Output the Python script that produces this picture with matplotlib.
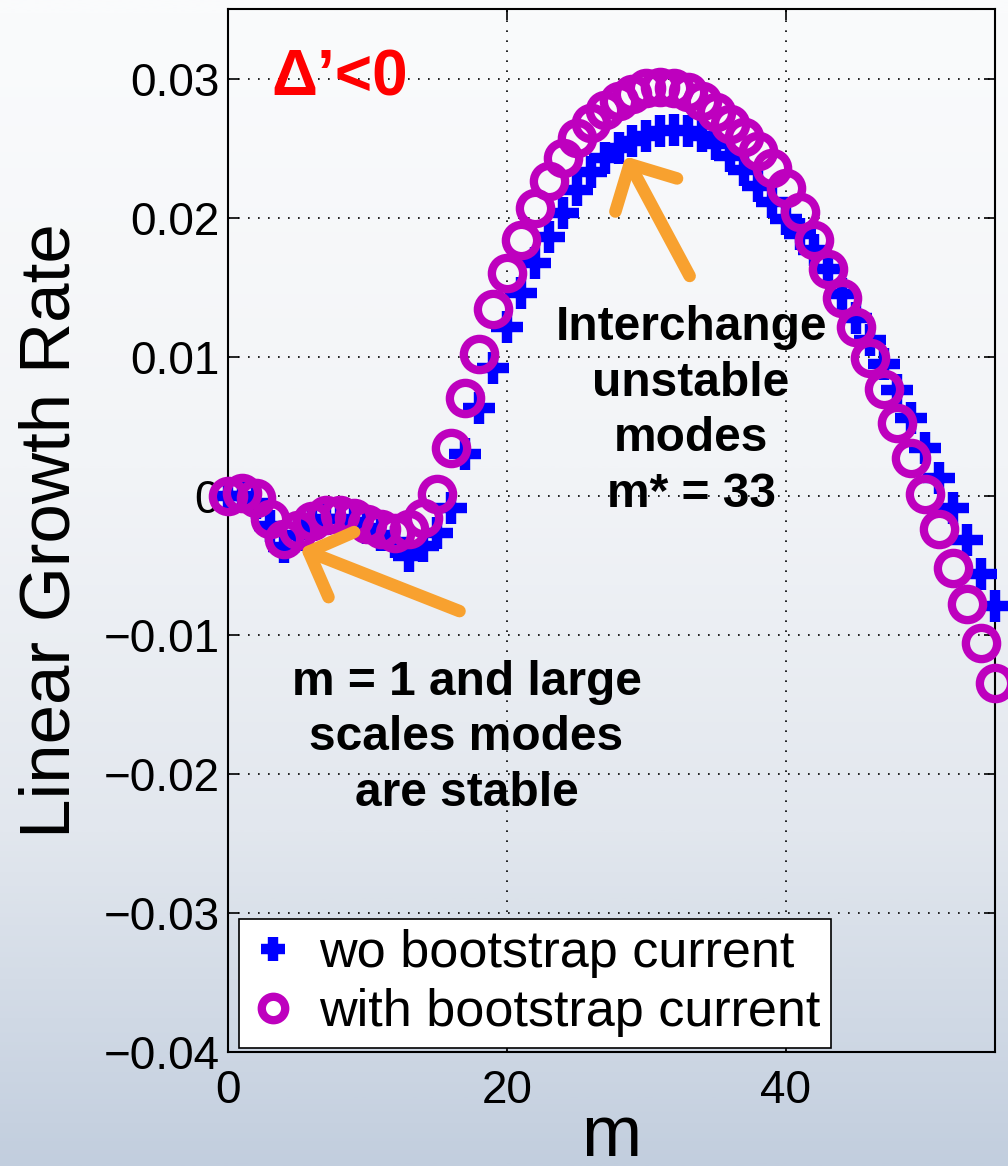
import numpy as np
import matplotlib
matplotlib.use('Agg')
import matplotlib.pyplot as plt
from matplotlib.colors import LinearSegmentedColormap

plt.rcParams['font.family'] = ['Liberation Sans', 'DejaVu Sans']

# poloidal mode number
m = np.arange(0, 56)

# growth rate without bootstrap current
gamma_wo = [
    0.0000, 0.0000, -0.0005, -0.0022, -0.0037, -0.0028, -0.0021, -0.0017,
    -0.0017, -0.0019, -0.0023, -0.0028, -0.0033, -0.0043, -0.0036, -0.0027,
    -0.0009, 0.0030, 0.0063, 0.0092, 0.0121, 0.0146, 0.0167, 0.0186,
    0.0203, 0.0220, 0.0233, 0.0243, 0.0250, 0.0255, 0.0259, 0.0262,
    0.0263, 0.0262, 0.0259, 0.0253, 0.0244, 0.0234, 0.0223, 0.0211,
    0.0199, 0.0188, 0.0177, 0.0163, 0.0145, 0.0128, 0.0112, 0.0095,
    0.0076, 0.0056, 0.0034, 0.0013, -0.0009, -0.0032, -0.0056, -0.0079,
]

# growth rate with bootstrap current
gamma_bs = [
    0.0000, 0.0002, -0.0002, -0.0017, -0.0031, -0.0025, -0.0018, -0.0014,
    -0.0014, -0.0016, -0.0020, -0.0024, -0.0027, -0.0024, -0.0016, 0.0001,
    0.0034, 0.0070, 0.0102, 0.0134, 0.0160, 0.0184, 0.0207, 0.0226,
    0.0243, 0.0257, 0.0268, 0.0277, 0.0284, 0.0289, 0.0293, 0.0294,
    0.0293, 0.0290, 0.0284, 0.0276, 0.0267, 0.0258, 0.0248, 0.0236,
    0.0221, 0.0204, 0.0184, 0.0163, 0.0142, 0.0121, 0.0099, 0.0077,
    0.0052, 0.0027, 0.0001, -0.0024, -0.0052, -0.0078, -0.0106, -0.0135,
]

yticks = [-0.04, -0.03, -0.02, -0.01, 0.0, 0.01, 0.02, 0.03]
ytick_labels = ['\u22120.04', '\u22120.03', '\u22120.02', '\u22120.01', '0', '0.01', '0.02', '0.03']
xticks = [0, 20, 40]

blue = '#0000FF'
magenta = '#BE00BE'
orange = '#F8A12F'

fig = plt.figure(figsize=(10.08, 11.66), dpi=100)

# slide-like background: white at the top fading to pale blue-grey
bg = fig.add_axes([0, 0, 1, 1], zorder=-10)
cmap = LinearSegmentedColormap.from_list('bg', ['#FAFBFC', '#F2F4F7', '#E2E7EE', '#C2CEDE'])
grad = np.linspace(0, 1, 512) ** 1.2
bg.imshow(grad[:, None], aspect='auto', cmap=cmap, extent=[0, 1, 0, 1], origin='upper')
bg.set_axis_off()

ax = fig.add_axes([0.2262, 0.0978, 0.761, 0.8945])
ax.set_facecolor('none')

ax.plot(m, gamma_wo, linestyle='none', marker='+', ms=23, mew=7.5, color=blue,
        label='wo bootstrap current', clip_on=False, zorder=3)
ax.plot(m, gamma_bs, linestyle='none', marker='o', ms=22.5, mew=6, mfc='none', mec=magenta,
        label='with bootstrap current', clip_on=False, zorder=4)

ax.set_xlim(0, 55)
ax.set_ylim(-0.04, 0.035)
ax.set_xticks(xticks)
ax.set_yticks(yticks)
ax.set_yticklabels(ytick_labels)
ax.tick_params(direction='in', length=8, width=1.2, top=True, right=True, labelsize=33)
ax.tick_params(axis='x', pad=12)
ax.tick_params(axis='y', pad=6)
ax.grid(True, linestyle=(0, (1, 5)), color='black', linewidth=1.2)
for s in ax.spines.values():
    s.set_linewidth(1.5)

ax.set_xlabel('m', fontsize=52, labelpad=-6)
ax.set_ylabel('Linear Growth Rate', fontsize=51, labelpad=14)

ax.text(3.1, 0.0300, '\u0394\u2019<0', color='#FF0000', fontsize=46, fontweight='bold',
        ha='left', va='center')

ax.text(33.2, 0.0061, 'Interchange\nunstable\nmodes\nm* = 33', fontsize=34.5, fontweight='bold',
        ha='center', va='center', multialignment='center', linespacing=1.3, zorder=5)
ax.text(17.1, -0.0174, 'm = 1 and large\nscales modes\nare stable', fontsize=34.5, fontweight='bold',
        ha='center', va='center', multialignment='center', linespacing=1.3, zorder=5)

arrow_style = dict(arrowstyle='->,head_length=0.9,head_width=0.9', lw=9, color=orange,
                   shrinkA=0, shrinkB=0, mutation_scale=28, capstyle='round', joinstyle='round')
ax.annotate('', xy=(28.5, 0.0244), xytext=(33.1, 0.0158), arrowprops=arrow_style, zorder=5)
ax.annotate('', xy=(5.2, -0.0038), xytext=(16.6, -0.0083), arrowprops=arrow_style, zorder=5)

leg = ax.legend(loc='lower left', bbox_to_anchor=(0.014, 0.004), fontsize=37.5, frameon=True,
                fancybox=False, edgecolor='black', framealpha=1, markerscale=0.75,
                handlelength=0.9, handletextpad=0.45, borderpad=0.2, labelspacing=0.2,
                borderaxespad=0)
leg.get_frame().set_linewidth(1.2)
leg.set_zorder(6)

fig.savefig('out.png', dpi=100)
